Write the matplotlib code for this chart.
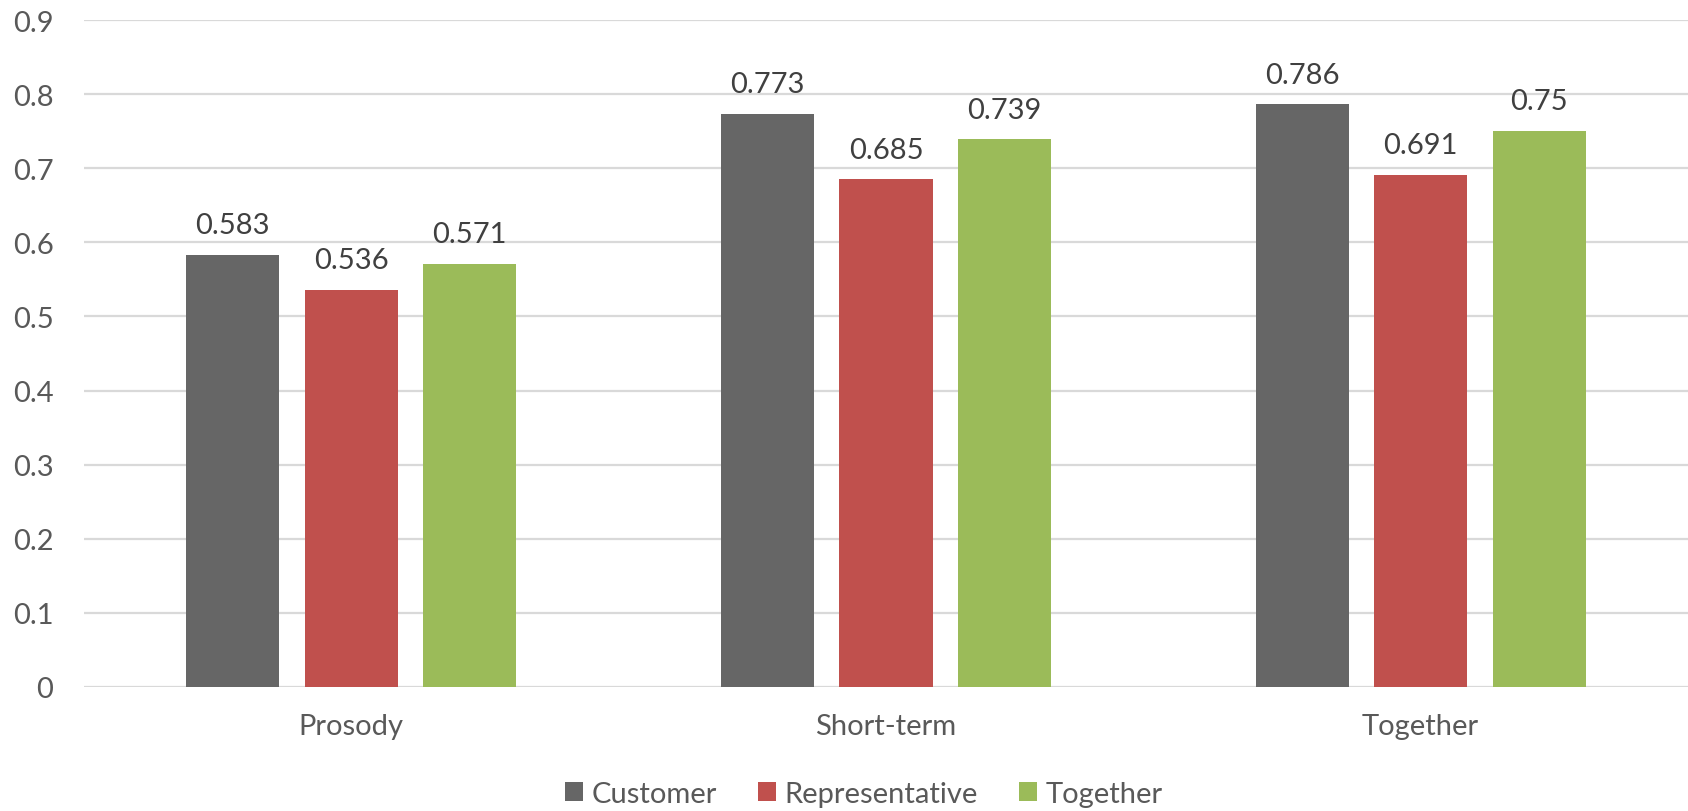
import numpy as np
import matplotlib
matplotlib.use("Agg")
import matplotlib.pyplot as plt
from matplotlib.ticker import FuncFormatter

# Scores per feature set, split by speaker
categories = ["Prosody", "Short-term", "Together"]
series_names = ["Customer", "Representative", "Together"]
customer = [0.583, 0.773, 0.786]
representative = [0.536, 0.685, 0.691]
together = [0.571, 0.739, 0.75]
y_ticks = [0, 0.1, 0.2, 0.3, 0.4, 0.5, 0.6, 0.7, 0.8, 0.9]

colors = ["#666666", "#C0504D", "#9BBB59"]
plt.rcParams["font.family"] = ["Lato", "DejaVu Sans"]
FS = 21

fig = plt.figure(figsize=(16.88, 8.12), dpi=100)
ax = fig.add_axes([84 / 1688, 124 / 812, 1604 / 1688, 667 / 812])

x = np.arange(len(categories))
bar_w = 0.174
step = 0.2217
for i, (name, vals, c) in enumerate(zip(series_names, [customer, representative, together], colors)):
    pos = x + (i - 1) * step
    bars = ax.bar(pos, vals, width=bar_w, color=c, label=name, zorder=3)
    for b, v in zip(bars, vals):
        ax.annotate(f"{v:g}", (b.get_x() + b.get_width() / 2, v),
                    xytext=(0, 12), textcoords="offset points",
                    ha="center", va="bottom", fontsize=FS, color="#404040")

ax.set_xlim(-0.5, len(categories) - 0.5)
ax.set_ylim(0, 0.9)
ax.set_yticks(y_ticks)
ax.yaxis.set_major_formatter(FuncFormatter(lambda v, p: f"{v:g}"))
ax.set_xticks(x)
ax.set_xticklabels(categories)
ax.grid(axis="y", color="#D9D9D9", linewidth=1.6, zorder=0)
ax.set_axisbelow(True)
for s in ax.spines.values():
    s.set_visible(False)
ax.tick_params(axis="both", length=0, labelsize=FS, colors="#595959")
ax.tick_params(axis="y", pad=22)
ax.tick_params(axis="x", pad=19)

leg = fig.legend(loc="center", bbox_to_anchor=(864 / 1688, 17 / 812), ncol=3,
                 frameon=False, fontsize=FS, handlelength=0.62, handleheight=0.62,
                 handletextpad=0.3, columnspacing=1.4, labelcolor="#595959")

fig.savefig("out.png", dpi=100)
